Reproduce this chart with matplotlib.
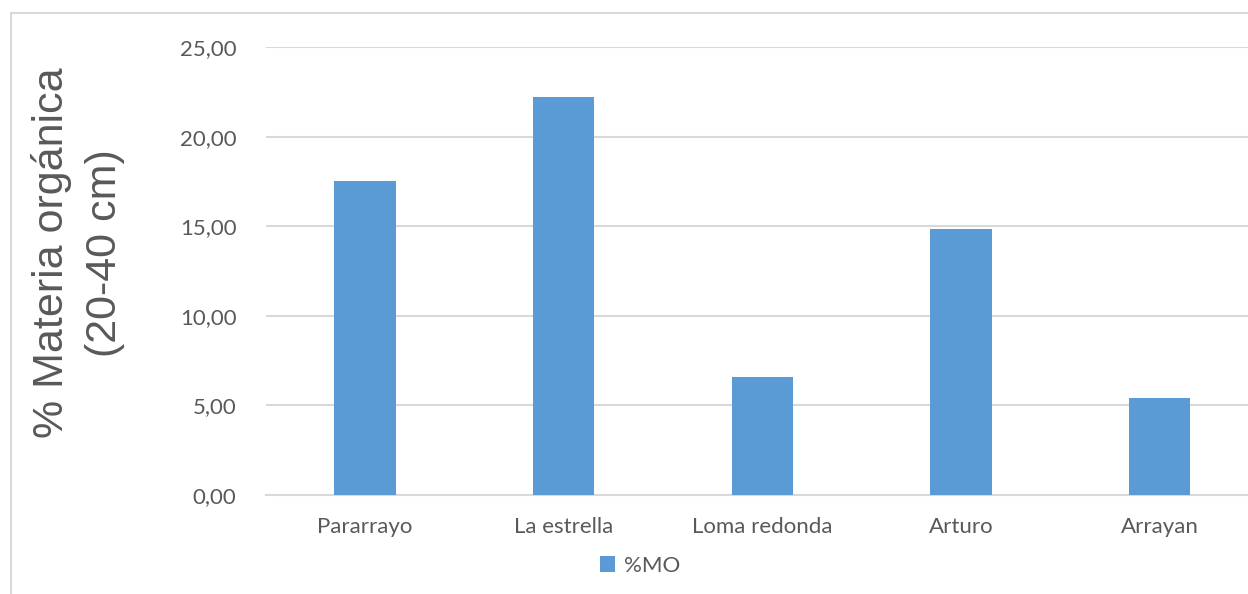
import matplotlib.pyplot as plt
from matplotlib.patches import Rectangle

sites = ["Pararrayo", "La estrella", "Loma redonda", "Arturo", "Arrayan"]
mo_pct = [17.55, 22.22, 6.6, 14.85, 5.42]
yticks = [0, 5, 10, 15, 20, 25]
ytick_labels = ["0,00", "5,00", "10,00", "15,00", "20,00", "25,00"]

bar_color = "#5B9BD5"
text_color = "#595959"
grid_color = "#D9D9D9"
tick_font = "Lato"

W, H = 1248, 594
fig = plt.figure(figsize=(W / 100, H / 100), dpi=100)

# axes placed in pixel terms; right edge runs slightly past the image like the source
left, right, top, bottom = 265.6, 1259, 47, 495
ax = fig.add_axes([left / W, 1 - bottom / H, (right - left) / W, (bottom - top) / H])

x = range(len(sites))
ax.bar(x, mo_pct, width=0.31, color=bar_color, label="%MO", zorder=3)

ax.set_xlim(-0.5, len(sites) - 0.5)
ax.set_ylim(0, 25)
ax.set_yticks(yticks)
ax.set_yticklabels(ytick_labels)
ax.set_xticks(list(x))
ax.set_xticklabels(sites)
ax.tick_params(axis="both", length=0, colors=text_color, labelsize=16)
ax.tick_params(axis="y", pad=21)
ax.tick_params(axis="x", pad=16)
for lab in ax.get_xticklabels() + ax.get_yticklabels():
    lab.set_fontfamily(tick_font)

ax.grid(axis="y", color=grid_color, linewidth=1.5, zorder=0)
for s in ["top", "right", "left"]:
    ax.spines[s].set_visible(False)
ax.spines["bottom"].set_color(grid_color)
ax.spines["bottom"].set_linewidth(1.5)

# chart area border (cut off at right and bottom)
fig.patches.append(Rectangle((11 / W, -0.05), 1.1, 1 - 13 / H + 0.05,
                             transform=fig.transFigure, fill=False,
                             edgecolor=grid_color, linewidth=1.5))

fig.text(78 / W, 1 - 253 / H, "% Materia orgánica\n(20-40 cm)",
         rotation=90, ha="center", va="center", multialignment="center",
         fontsize=31, family="Liberation Sans", color=text_color, linespacing=1.4)

leg = ax.legend(loc="center", bbox_to_anchor=(640 / W, 1 - 566 / H),
                bbox_transform=fig.transFigure, frameon=False,
                handlelength=0.65, handleheight=0.75, handletextpad=0.4,
                prop={"family": tick_font, "size": 16})
for t in leg.get_texts():
    t.set_color(text_color)

fig.savefig("out.png", dpi=100)
